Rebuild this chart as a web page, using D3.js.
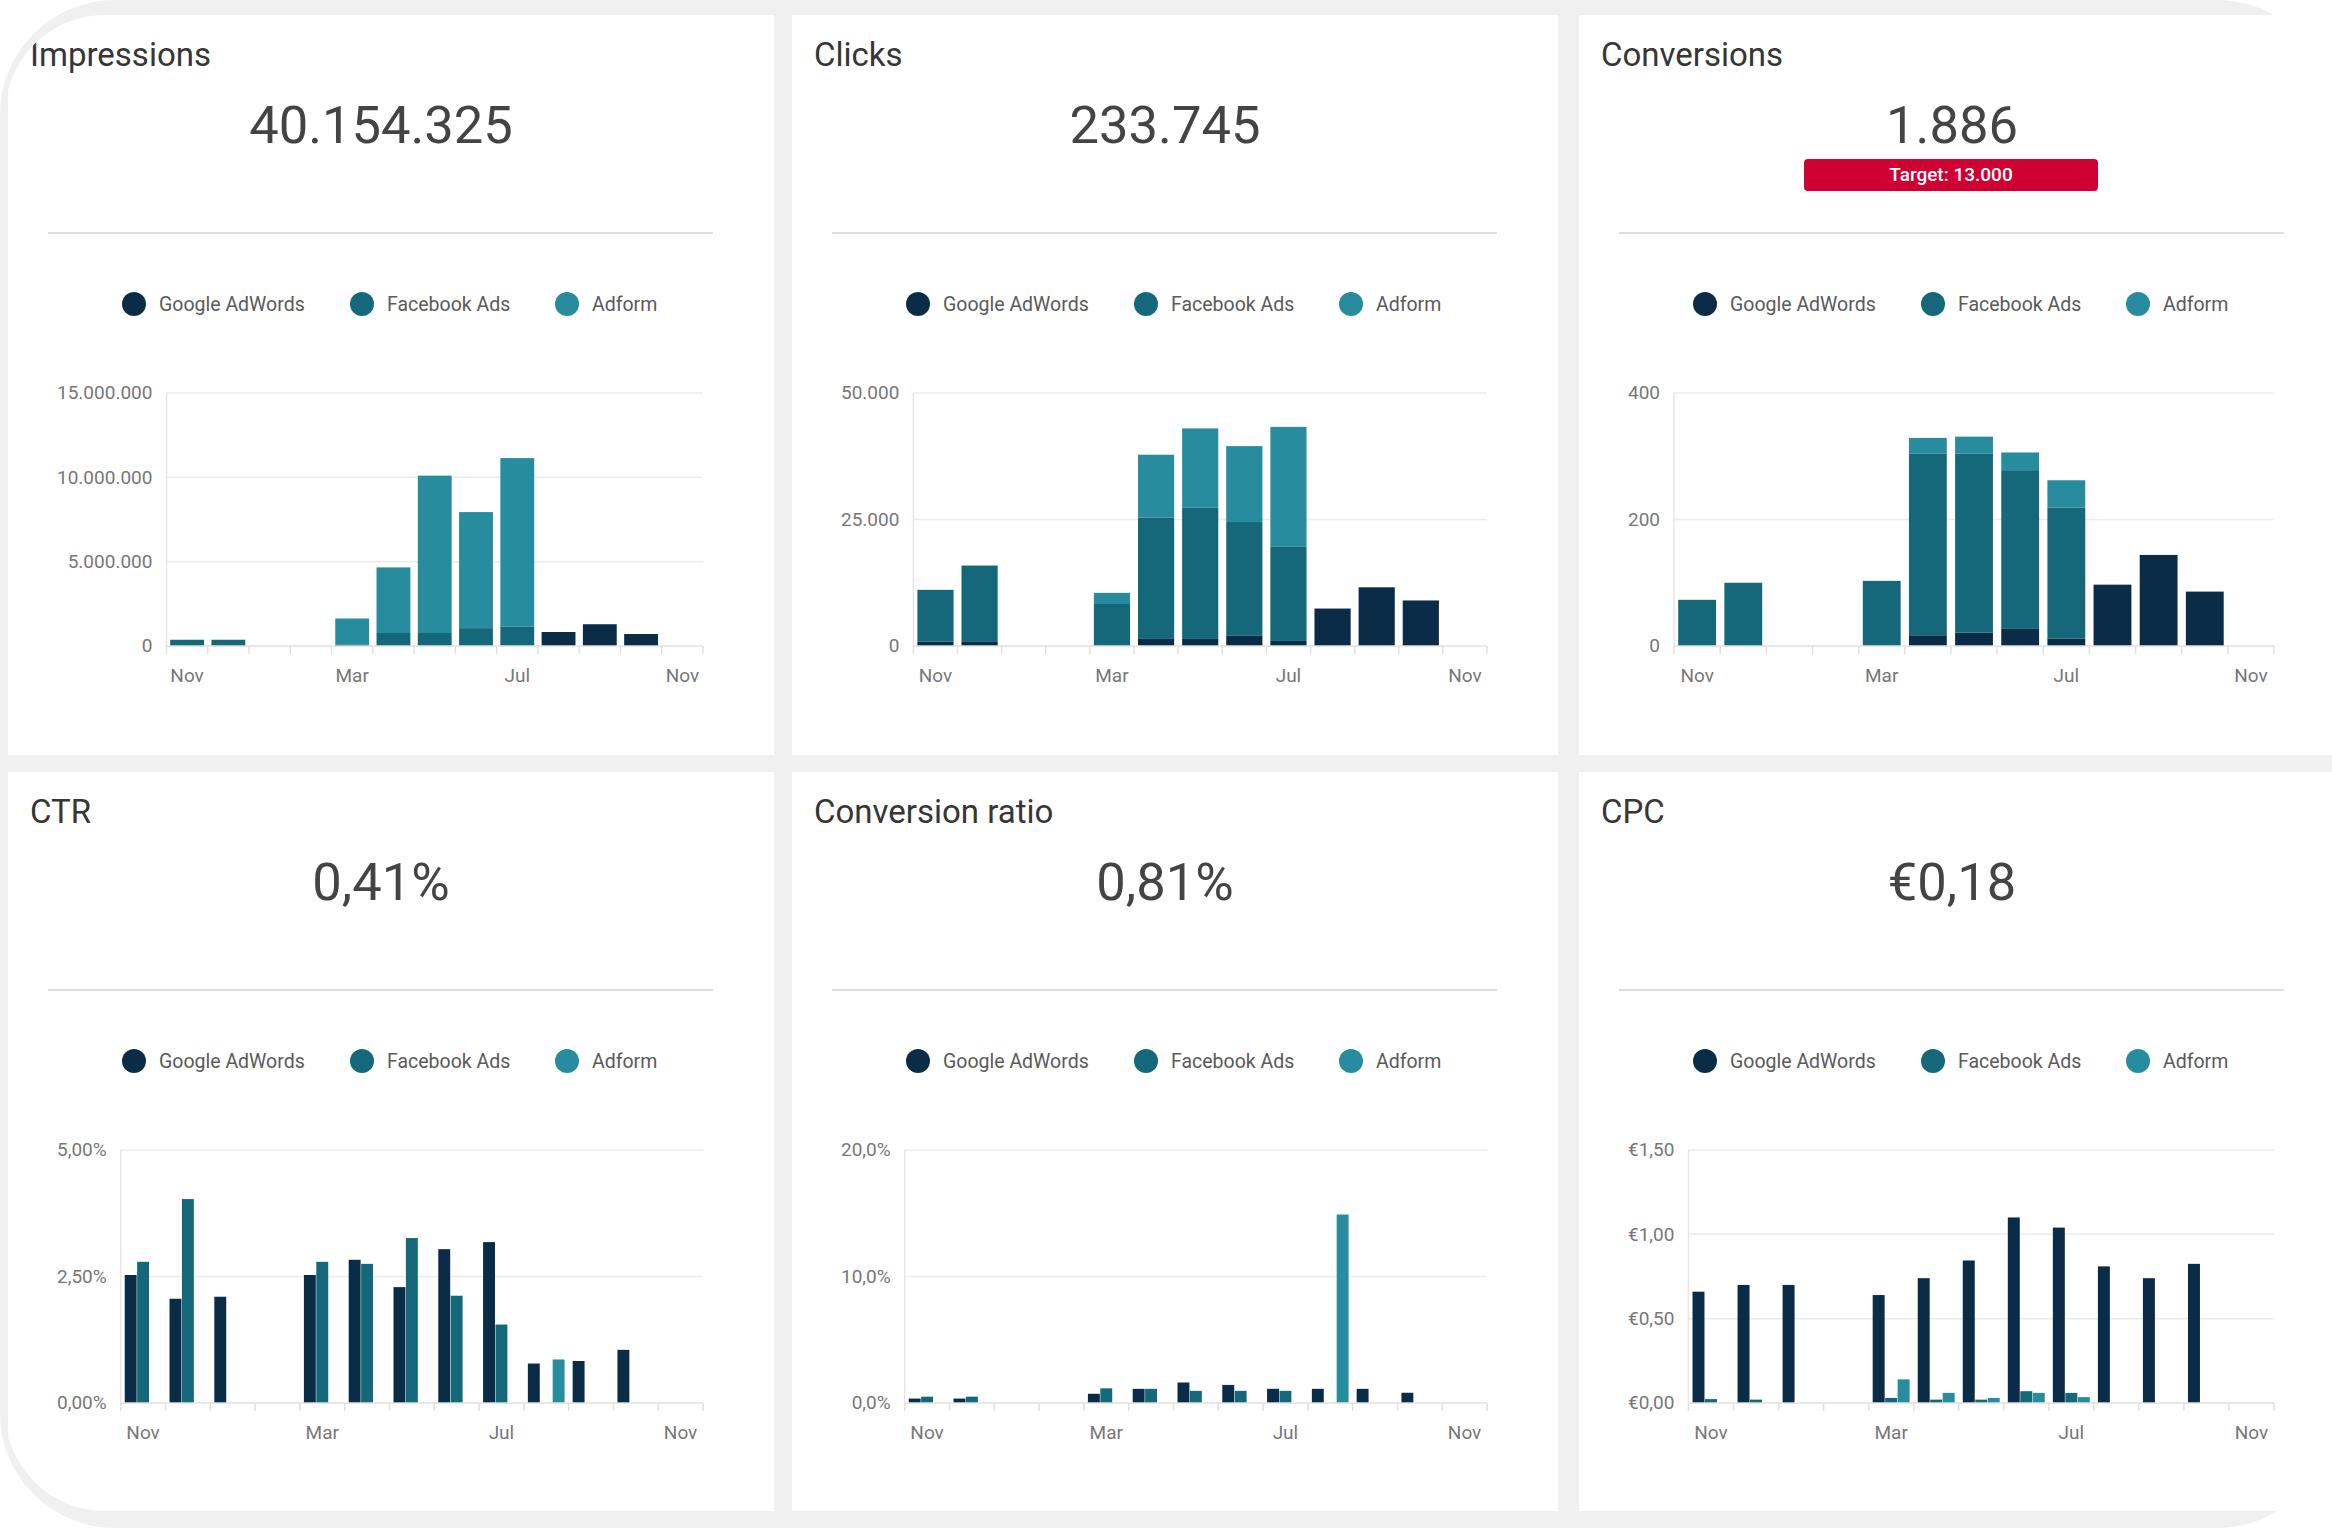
<!DOCTYPE html>
<html>
<head>
<meta charset="utf-8">
<script src="https://cdn.jsdelivr.net/npm/d3@7"></script>
<style>
  body { margin: 0; background: #fff; font-family: Roboto, 'Noto Sans', sans-serif; }
  svg { display: block; }
</style>
</head>
<body>
<script>
const width = 2332,
      height = 1528

// x axis: monthly buckets, Nov .. Nov
const months = ['Nov', 'Dec', 'Jan', 'Feb', 'Mar', 'Apr', 'May', 'Jun', 'Jul', 'Aug', 'Sep', 'Oct', 'Nov']
const labelEvery = 4
const seriesKeys = ['google', 'facebook', 'adform']
const seriesNames = ['Google AdWords', 'Facebook Ads', 'Adform']
const seriesColors = ['#0b2c47', '#14687a', '#278c9d']

const titles = ['Impressions', 'Clicks', 'Conversions', 'CTR', 'Conversion ratio', 'CPC']
const totals = ['40.154.325', '233.745', '1.886', '0,41%', '0,81%', '€0,18']
const conversionTarget = 'Target: 13.000'

// Impressions (stacked)
const impGoogle   = [0, 0, 0, 0, 0, 0, 0, 0, 0, 830000, 1290000, 710000, 0]
const impFacebook = [370000, 370000, 0, 0, 100000, 770000, 770000, 1060000, 1140000, 0, 0, 0, 0]
const impAdform   = [0, 0, 0, 0, 1530000, 3890000, 9330000, 6880000, 10000000, 0, 0, 0, 0]
const impTicks = [0, 5000000, 10000000, 15000000]

// Clicks (stacked)
const clkGoogle   = [900, 800, 0, 0, 0, 1400, 1400, 2100, 1000, 7400, 11600, 9000, 0]
const clkFacebook = [10200, 15100, 0, 0, 8300, 24000, 26000, 22400, 18700, 0, 0, 0, 0]
const clkAdform   = [0, 0, 0, 0, 2200, 12400, 15600, 15000, 23600, 0, 0, 0, 0]
const clkTicks = [0, 25000, 50000]

// Conversions (stacked)
const convGoogle   = [0, 0, 0, 0, 0, 17, 21, 27, 12, 97, 144, 86, 0]
const convFacebook = [73, 100, 0, 0, 103, 287, 283, 251, 207, 0, 0, 0, 0]
const convAdform   = [0, 0, 0, 0, 0, 25, 27, 28, 43, 0, 0, 0, 0]
const convTicks = [0, 200, 400]

// CTR in % (grouped)
const ctrGoogle   = [2.53, 2.06, 2.10, 0, 2.53, 2.83, 2.29, 3.04, 3.18, 0.78, 0.83, 1.05, 0]
const ctrFacebook = [2.79, 4.03, 0, 0, 2.79, 2.75, 3.26, 2.12, 1.55, 0, 0, 0, 0]
const ctrAdform   = [0, 0, 0, 0, 0, 0, 0, 0, 0, 0.86, 0, 0, 0]
const ctrTicks = [0, 2.5, 5]

// Conversion ratio in % (grouped)
const crGoogle   = [0.35, 0.35, 0, 0, 0.73, 1.12, 1.62, 1.43, 1.12, 1.12, 1.12, 0.81, 0]
const crFacebook = [0.5, 0.5, 0, 0, 1.16, 1.12, 0.96, 0.96, 0.96, 0, 0, 0, 0]
const crAdform   = [0, 0, 0, 0, 0, 0, 0, 0, 0, 14.9, 0, 0, 0]
const crTicks = [0, 10, 20]

// CPC in EUR (grouped)
const cpcGoogle   = [0.66, 0.70, 0.70, 0, 0.64, 0.74, 0.845, 1.10, 1.04, 0.81, 0.74, 0.825, 0]
const cpcFacebook = [0.023, 0.02, 0, 0, 0.03, 0.02, 0.02, 0.07, 0.06, 0, 0, 0, 0]
const cpcAdform   = [0, 0, 0, 0, 0.14, 0.06, 0.03, 0.06, 0.035, 0, 0, 0, 0]
const cpcTicks = [0, 0.5, 1, 1.5]

const loc = d3.formatLocale({decimal: ',', thousands: '.', grouping: [3], currency: ['€', '']})
const fmtInt = loc.format(',d')
const fmtPct2 = v => loc.format('.2f')(v) + '%'
const fmtPct1 = v => loc.format('.1f')(v) + '%'
const fmtEur = loc.format('$.2f')

const panels = [
  {kind: 'stack', series: [impGoogle, impFacebook, impAdform], ticks: impTicks, fmt: fmtInt},
  {kind: 'stack', series: [clkGoogle, clkFacebook, clkAdform], ticks: clkTicks, fmt: fmtInt},
  {kind: 'stack', series: [convGoogle, convFacebook, convAdform], ticks: convTicks, fmt: fmtInt, target: conversionTarget},
  {kind: 'group', series: [ctrGoogle, ctrFacebook, ctrAdform], ticks: ctrTicks, fmt: fmtPct2},
  {kind: 'group', series: [crGoogle, crFacebook, crAdform], ticks: crTicks, fmt: fmtPct1},
  {kind: 'group', series: [cpcGoogle, cpcFacebook, cpcAdform], ticks: cpcTicks, fmt: fmtEur}
].map((p, i) => Object.assign(p, {title: titles[i], total: totals[i]}))

// layout
const colX = [8, 792, 1579],
      rowY = [15, 772]
const panelW = 766, panelH = 740
const chartTop = 378, chartBottom = 631, chartRight = 695
const labelLeft = 49, labelGap = 14

let svg = d3.select('body').append('svg')
    .attr('width', width)
    .attr('height', height)

// panels are rounded on the left only, the right column runs off the frame
const clipL = 5, clipT = 15, clipB = 1511, r = 100
let defs = svg.append('defs')
defs.append('clipPath').attr('id', 'panelClip')
  .append('path')
    .attr('d', `M${clipL + r},${clipT} H${width} V${clipB} H${clipL + r} ` +
               `A${r},${r} 0 0 1 ${clipL},${clipB - r} V${clipT + r} A${r},${r} 0 0 1 ${clipL + r},${clipT} Z`)

svg.append('rect')
    .attr('width', width)
    .attr('height', height)
    .attr('rx', 115)
    .attr('fill', '#f0f0f0')

let content = svg.append('g').attr('clip-path', 'url(#panelClip)')

let drawPanel = (p, i) => {
  const px = colX[i % 3], py = rowY[Math.floor(i / 3)]
  let g = content.append('g').attr('transform', `translate(${px}, ${py})`)

  g.append('rect')
      .attr('width', Math.min(panelW, width - px))
      .attr('height', panelH)
      .attr('fill', '#fff')

  g.append('text')
      .attr('x', 22)
      .attr('y', 51)
      .text(p.title)
      .style('font-size', '33px')
      .style('fill', '#363636')

  g.append('text')
      .attr('x', 373)
      .attr('y', 128)
      .attr('text-anchor', 'middle')
      .text(p.total)
      .style('font-size', '52.5px')
      .style('fill', '#444')

  if (p.target) {
    g.append('rect')
        .attr('x', 225).attr('y', 144)
        .attr('width', 294).attr('height', 32)
        .attr('rx', 4)
        .attr('fill', '#cf0032')
    g.append('text')
        .attr('x', 372)
        .attr('y', 166)
        .attr('text-anchor', 'middle')
        .text(p.target)
        .style('font-size', '19px')
        .style('font-weight', 500)
        .style('fill', '#fff')
  }

  g.append('line')
      .attr('x1', 40).attr('x2', 705)
      .attr('y1', 218).attr('y2', 218)
      .style('stroke', '#dedede')
      .style('stroke-width', 2)

  // legend
  const legendX = [126, 354, 559]
  let legend = g.append('g').selectAll('g').data(seriesNames).join('g')
      .attr('transform', (d, k) => `translate(${legendX[k]}, 289)`)
  legend.append('circle')
      .attr('r', 12)
      .attr('fill', (d, k) => seriesColors[k])
  legend.append('text')
      .attr('x', 25)
      .attr('y', 7)
      .text(d => d)
      .style('font-size', '19.5px')
      .style('fill', '#5a5a5a')

  // y tick labels, measured first to place the plot area
  let yLabels = g.append('g').selectAll('text').data(p.ticks).join('text')
      .attr('text-anchor', 'end')
      .attr('dy', '0.34em')
      .text(d => p.fmt(d))
      .style('font-size', '19px')
      .style('fill', '#777')
  let maxW = d3.max(yLabels.nodes(), n => n.getComputedTextLength())
  const left = labelLeft + maxW + labelGap

  let x = d3.scaleBand()
      .domain(d3.range(months.length))
      .range([left, chartRight])
      .paddingInner(0.18)
      .paddingOuter(0.09)
  let y = d3.scaleLinear()
      .domain([0, d3.max(p.ticks)])
      .range([chartBottom, chartTop])

  yLabels.attr('x', left - labelGap).attr('y', d => y(d))

  g.append('g').selectAll('line').data(p.ticks.slice(1)).join('line')
      .attr('x1', left).attr('x2', chartRight)
      .attr('y1', d => y(d)).attr('y2', d => y(d))
      .style('stroke', '#ececec')
      .style('stroke-width', 1.5)

  g.append('line')
      .attr('x1', left).attr('x2', left)
      .attr('y1', chartTop).attr('y2', chartBottom)
      .style('stroke', '#e6e6e6')
      .style('stroke-width', 1.5)

  // month boundary ticks under the baseline
  const step = x.step()
  g.append('g').selectAll('line').data(d3.range(months.length + 1)).join('line')
      .attr('x1', k => left + k * step).attr('x2', k => left + k * step)
      .attr('y1', chartBottom).attr('y2', chartBottom + 8)
      .style('stroke', '#e0e0e0')
      .style('stroke-width', 1.5)

  let bars = g.append('g')
  if (p.kind === 'stack') {
    const rows = months.map((m, k) => {
      let row = {}
      seriesKeys.forEach((key, s) => row[key] = p.series[s][k])
      return row
    })
    const stacked = d3.stack().keys(seriesKeys)(rows)
    bars.selectAll('g').data(stacked).join('g')
        .attr('fill', (d, s) => seriesColors[s])
      .selectAll('rect').data(d => d.map((v, k) => ({k, v})).filter(e => e.v[1] > e.v[0])).join('rect')
        .attr('x', e => x(e.k))
        .attr('width', x.bandwidth())
        .attr('y', e => y(e.v[1]))
        .attr('height', e => y(e.v[0]) - y(e.v[1]))
  } else {
    let xs = d3.scaleBand()
        .domain(seriesKeys)
        .range([0, x.bandwidth()])
        .paddingInner(0.04)
    const cells = []
    p.series.forEach((arr, s) => arr.forEach((v, k) => { if (v > 0) cells.push({k, s, v}) }))
    bars.selectAll('rect').data(cells).join('rect')
        .attr('x', c => x(c.k) + xs(seriesKeys[c.s]))
        .attr('width', xs.bandwidth())
        .attr('y', c => y(c.v))
        .attr('height', c => chartBottom - y(c.v))
        .attr('fill', c => seriesColors[c.s])
  }

  g.append('line')
      .attr('x1', left).attr('x2', chartRight)
      .attr('y1', chartBottom).attr('y2', chartBottom)
      .style('stroke', '#e0e0e0')
      .style('stroke-width', 1.5)

  g.append('g').selectAll('text')
      .data(d3.range(months.length).filter(k => k % labelEvery === 0))
      .join('text')
      .attr('x', k => x(k) + x.bandwidth() / 2)
      .attr('y', chartBottom + 36)
      .attr('text-anchor', 'middle')
      .text(k => months[k])
      .style('font-size', '19px')
      .style('fill', '#777')
}

panels.forEach(drawPanel)
</script>
</body>
</html>
